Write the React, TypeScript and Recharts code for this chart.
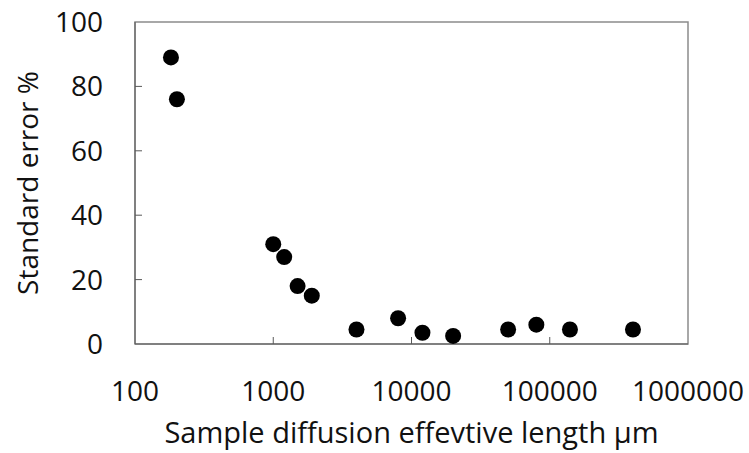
import { ScatterChart, Scatter, XAxis, YAxis, ReferenceArea } from 'recharts';

// diffusion effective length (µm) vs standard error (%)
const lengths = [182, 201, 1000, 1200, 1500, 1900, 4000, 8000, 12000, 20000, 50000, 80000, 140000, 400000];
const errors = [89, 76, 31, 27, 18, 15, 4.5, 8, 3.5, 2.5, 4.5, 6, 4.5, 4.5];
const xTicks = [100, 1000, 10000, 100000, 1000000];
const yTicks = [0, 20, 40, 60, 80, 100];

const data = lengths.map((x, i) => ({ x, y: errors[i] }));

const FONT = '"Open Sans", Lato, sans-serif';
const AXIS = '#595959';
const BORDER = '#8c8c8c';

function XTick({ x, y, payload, index }: any) {
  const inner = index > 0 && index < xTicks.length - 1;
  return (
    <g>
      {inner && <line x1={x} y1={y} x2={x} y2={y - 7} stroke={AXIS} />}
      <text x={x} y={y + 57} textAnchor="middle" fontSize={28} fontFamily={FONT} fill="#111">
        {payload.value}
      </text>
    </g>
  );
}

function YTick({ x, y, payload, index }: any) {
  const inner = index > 0 && index < yTicks.length - 1;
  return (
    <g>
      {inner && <line x1={x} y1={y} x2={x + 7} y2={y} stroke={AXIS} />}
      <text x={x - 32} y={y + 10} textAnchor="end" fontSize={28} fontFamily={FONT} fill="#111">
        {payload.value}
      </text>
    </g>
  );
}

export default function App() {
  return (
    <div>
      <style>{`body{margin:0}`}</style>
      <ScatterChart width={749} height={453} margin={{ top: 22, right: 61, left: 0, bottom: 0 }}>
        <XAxis
          type="number"
          dataKey="x"
          scale="log"
          domain={[100, 1000000]}
          ticks={xTicks}
          allowDataOverflow
          height={109}
          tickSize={0}
          tickMargin={0}
          tick={<XTick />}
          axisLine={{ stroke: AXIS }}
          label={{
            content: ({ viewBox }: any) => (
              <text
                x={viewBox.x + viewBox.width / 2}
                y={viewBox.y + 99}
                textAnchor="middle"
                fontSize={29}
                fontFamily={FONT}
                fill="#111"
              >
                Sample diffusion effevtive length µm
              </text>
            ),
          }}
        />
        <YAxis
          type="number"
          dataKey="y"
          domain={[0, 100]}
          ticks={yTicks}
          width={135}
          tickSize={0}
          tickMargin={0}
          tick={<YTick />}
          axisLine={{ stroke: AXIS }}
          label={{
            content: ({ viewBox }: any) => {
              const cx = viewBox.x + 27;
              const cy = viewBox.y + viewBox.height / 2;
              return (
                <text
                  x={cx}
                  y={cy}
                  transform={`rotate(-90 ${cx} ${cy})`}
                  textAnchor="middle"
                  dominantBaseline="central"
                  fontSize={28}
                  fontFamily={FONT}
                  fill="#111"
                >
                  Standard error %
                </text>
              );
            },
          }}
        />
        <ReferenceArea x1={100} x2={1000000} y1={0} y2={100} fill="none" stroke={BORDER} strokeWidth={1.5} />
        <Scatter
          data={data}
          isAnimationActive={false}
          shape={(p: any) => <circle cx={p.cx} cy={p.cy} r={8} fill="#000" />}
        />
      </ScatterChart>
    </div>
  );
}
